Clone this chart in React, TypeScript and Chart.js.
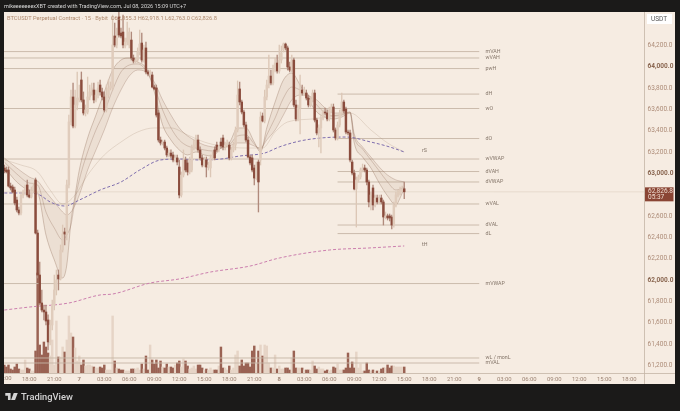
import React, { useEffect, useRef } from "react";
import { Chart, registerables } from "chart.js";

Chart.register(...registerables);

const opens = [
  63050,63031,63031,62881,62872,62844,62750,62657,62629,62797,
  62825,62891,62797,62778,62835,62938,62441,62048,61786,61720,
  61702,61627,61421,61580,61767,61908,62048,62011,62282,62451,
  62432,62891,63481,63715,63443,63640,63687,63874,63687,63565,
  63574,63715,63762,63780,63687,63733,63827,63762,63715,63593,
  63733,63799,63799,64286,64202,64464,64314,64323,64192,64230,
  64202,64248,64080,64052,64061,64136,64220,64061,64174,63949,
  63930,63921,63808,63799,63565,63312,63284,63293,63237,63172,
  63190,63172,63125,63144,63059,62797,62984,63125,63097,63013,
  63031,63237,63265,63312,63219,63144,63078,63125,63059,63050,
  63144,63219,63265,63219,63293,63331,63247,63265,63265,63144,
  63219,63265,63406,63790,63668,63574,63453,63312,63153,63144,
  63050,62956,63106,63125,63537,63490,63715,63827,63911,63846,
  63967,64033,63958,64061,64155,64211,64174,63996,63967,64061,
  63640,63509,63612,63780,63752,63752,63705,63640,63687,63752,
  63499,63378,63425,63518,63574,63565,63509,63593,63621,63406,
  63331,63453,63565,63668,63602,63387,63378,63106,63003,62853,
  62938,62966,63031,63050,63031,62919,62732,62863,62704,62769,
  62732,62769,62732,62591,62601,62601,62591,62516,62704,62797,
  62816,62844,62855.3,
];
const highs = [
  63078,63059,63059,62909,62891,62872,62778,62685,62825,62844,
  62891,62938,62844,62872,62909,62956,62469,62170,61908,61767,
  61767,61674,61627,61814,62048,62095,62095,62329,62516,62488,
  62938,63546,63780,63846,63780,63949,63827,63949,63762,63640,
  63902,63827,63846,63846,63780,63855,63874,63799,63762,63827,
  63874,63855,64482,64408,64361,64510,64361,64482,64267,64417,
  64361,64323,64108,64080,64174,64342,64314,64202,64230,63967,
  63967,63949,63827,63827,63593,63340,63312,63312,63256,63219,
  63219,63200,63172,63172,63125,63013,63219,63153,63125,63153,
  63265,63312,63359,63359,63247,63172,63153,63153,63106,63172,
  63200,63247,63293,63265,63331,63359,63293,63312,63293,63247,
  63293,63434,63865,63855,63687,63593,63481,63340,63172,63172,
  63078,63106,63125,63574,63565,63780,63874,64108,63967,64014,
  64080,64108,64202,64192,64220,64220,64192,64042,64108,64080,
  63687,63640,63921,63827,63808,63780,63733,63715,63780,63780,
  63518,63453,63546,63593,63612,63593,63621,63649,63649,63425,
  63481,63593,63752,63687,63621,63406,63406,63125,63031,62966,
  62984,63050,63087,63078,63050,62938,62825,62891,62797,62797,
  62797,62797,62750,62638,62619,62619,62610,62732,62825,62844,
  62872,62881,62918.1,
];
const lows = [
  63003,63003,62872,62844,62816,62704,62638,62610,62610,62769,
  62797,62778,62769,62769,62816,62432,62020,61767,61702,61627,
  61580,61346,61393,61533,61720,61861,61908,62001,62263,62329,
  62376,62863,63453,63425,63425,63593,63668,63668,63546,63537,
  63556,63687,63733,63659,63668,63705,63733,63687,63574,63574,
  63705,63780,63780,64183,64174,64276,64267,64174,64174,64202,
  64174,64061,64033,64033,64042,64108,64042,64042,63930,63911,
  63911,63799,63780,63527,63293,63265,63265,63219,63153,63153,
  63144,63106,63106,63078,62769,62778,62966,63013,62984,62994,
  63013,63219,63237,63200,63125,63059,63059,62966,63031,62966,
  63125,63125,63200,63200,63237,63219,63219,63247,63125,63125,
  63200,63219,63387,63640,63556,63434,63293,63144,63078,63013,
  62891,62938,62638,63078,63481,63471,63687,63799,63827,63827,
  63949,63939,63939,64033,64136,64155,63967,63949,63949,63621,
  63490,63490,63368,63733,63733,63687,63621,63621,63668,63481,
  63359,63247,63190,63499,63546,63490,63490,63574,63387,63312,
  63312,63434,63546,63565,63368,63359,63106,62984,62844,62497,
  62919,62947,63013,63013,62891,62685,62657,62657,62685,62713,
  62713,62713,62516,62573,62563,62554,62479,62497,62685,62778,
  62797,62825,62763,
];
const closes = [
  63022,63013,62881,62863,62825,62722,62657,62629,62797,62825,
  62863,62797,62778,62835,62881,62441,62048,61786,61720,61702,
  61617,61421,61580,61767,61908,62001,62011,62282,62432,62432,
  62891,63481,63715,63443,63640,63705,63705,63687,63565,63593,
  63715,63762,63799,63687,63733,63799,63762,63715,63593,63733,
  63799,63818,64202,64202,64267,64295,64286,64202,64230,64267,
  64323,64080,64052,64061,64136,64211,64061,64155,63949,63930,
  63949,63808,63790,63546,63312,63284,63293,63237,63172,63190,
  63162,63125,63144,63106,62797,62984,63125,63031,63013,63125,
  63237,63265,63312,63219,63144,63078,63125,63059,63078,63144,
  63172,63144,63219,63247,63256,63247,63265,63284,63144,63219,
  63265,63406,63733,63668,63574,63453,63312,63153,63097,63031,
  62956,63078,62919,63527,63490,63715,63827,63911,63846,63967,
  64033,63958,64061,64127,64211,64174,63996,63967,64061,63640,
  63509,63612,63780,63752,63780,63705,63640,63687,63752,63499,
  63378,63425,63518,63574,63565,63509,63593,63621,63406,63331,
  63453,63565,63668,63584,63387,63378,63125,63003,62853,62938,
  62966,63031,63050,63031,62919,62732,62797,62704,62769,62732,
  62769,62732,62591,62601,62582,62582,62516,62704,62797,62816,
  62844,62853,62826.8,
];
const volumes = [
  80,60,80,40,30,60,90,40,30,30,
  130,50,40,20,20,220,1000,280,180,310,
  260,200,170,330,80,520,160,160,260,210,
  330,570,400,360,250,120,170,80,130,70,
  80,80,70,60,50,50,60,50,80,30,
  30,30,570,120,50,40,30,30,20,20,
  20,40,40,40,50,30,90,40,170,30,
  280,130,90,130,50,120,60,50,90,60,
  60,50,80,100,120,60,140,120,70,40,
  50,70,40,80,80,50,30,40,30,50,
  30,30,30,70,260,50,50,30,70,30,
  50,180,220,70,130,70,100,100,60,220,
  270,100,220,280,170,280,270,100,50,50,
  180,40,70,40,40,50,50,30,150,220,
  50,50,50,50,30,30,30,30,120,70,
  40,60,40,40,20,30,20,30,60,50,
  90,30,30,30,50,200,50,110,50,210,
  50,90,20,20,100,30,20,30,20,20,
  20,40,50,50,80,50,70,70,60,60,
  60,60,60,
];

const ribbonIdx = [0,6,12,16,20,24,28,30,32,34,36,40,44,48,52,56,60,64,68,72,76,80,84,88,92,96,100,104,108,112,116,120,123,126,130,134,138,142,146,150,154,158,162,166,168,172,176,180,184,188,190,192];
const ribbonSlow = [63144,63050,62966,62928,62825,62732,62638,62610,62638,62704,62797,63031,63219,63406,63612,63780,63911,63967,63949,63855,63687,63546,63425,63350,63303,63265,63247,63237,63256,63284,63284,63256,63237,63312,63406,63546,63687,63733,63724,63687,63612,63565,63565,63574,63368,63247,63153,63059,62984,62938,62928,62919];
const ribbonMid = [63106,62994,62909,62891,62638,62488,62376,62423,62516,62750,62938,63200,63406,63574,63780,63949,64014,64024,63967,63808,63593,63425,63312,63256,63237,63219,63209,63237,63265,63350,63359,63275,63219,63359,63518,63705,63808,63780,63733,63640,63565,63537,63546,63574,63340,63228,63125,63022,62919,62844,62853,62872];
const ribbonFast = [63059,62919,62844,62816,62423,62189,62020,62142,62544,62797,63031,63331,63546,63762,63967,64061,64080,64042,63986,63762,63453,63312,63219,63172,63200,63172,63162,63237,63284,63425,63425,63293,63200,63425,63668,63874,63939,63827,63687,63574,63527,63509,63527,63565,63284,63153,63050,62909,62788,62704,62769,62863];

const longEmaIdx = [0,8,16,22,28,34,40,48,56,64,72,80,88,96,104,116,124,130,136,148,160,166,176,184,192];
const longEma = [63125,63078,63013,62844,62713,62797,62984,63172,63293,63387,63425,63425,63359,63293,63256,63237,63237,63387,63481,63509,63546,63565,63406,63284,63200];

const weeklyVwapIdx = [0,10,17,22,29,36,46,56,65,75,84,94,104,113,125,132,142,152,164,176,185,192];
const weeklyVwap = [62816,62816,62797,62732,62694,62750,62844,62919,63031,63125,63134,63125,63134,63162,63190,63247,63303,63331,63340,63293,63247,63200];

const monthlyVwapIdx = [0,12,31,46,52,70,84,99,118,132,156,175,192];
const monthlyVwap = [61720,61748,61786,61861,61870,61973,62011,62076,62132,62207,62282,62301,62320];

const levelNames = ["mVAH","wVAH","pwH","dH","wO","dO","wVWAP","dVAH","dVWAP","wVAL","dVAL","dL","mVWAP","wL / monL","mVAL"];
const levelPrices = [64140,64080,63981,63742,63607,63326,63134,63017,62919,62713,62516,62436,61968,61271,61224];
const levelStarts = [-1,-1,-1,160,-1,160,-1,160,160,-1,160,160,-1,-1,-1];

const timeLabels = ["15:00","18:00","21:00","7","03:00","06:00","09:00","12:00","15:00","18:00","21:00","8","03:00","06:00","09:00","12:00","15:00","18:00","21:00","9","03:00","06:00","09:00","12:00","15:00","18:00"];
const lastPrice = 62826.8;

const FONT = "Roboto, 'Liberation Sans', sans-serif";
const PANEL = "#f6ece2";
const DARK = "#1b1a19";
const DOWN = "#8a4c3d";
const UP = "#e0ccbc";
const VOL_DOWN = "#9a6253";
const VOL_UP = "#e6d4c6";
const LEVEL = "#c6b6a6";
const TIME_COLOR = "#9d8474";

const pts = (xs: number[], ys: number[]) => xs.map((x, i) => ({ x, y: ys[i] }));

const decor = {
  id: "decor",
  beforeDraw(c: any) {
    const g = c.ctx;
    g.save();
    g.fillStyle = DARK;
    g.fillRect(0, 0, 680, 411);
    g.fillStyle = PANEL;
    g.fillRect(4, 12, 671, 372);
    g.restore();
  },
  afterDraw(c: any) {
    const g = c.ctx;
    const x = c.scales.x;
    const y = c.scales.y;
    g.save();
    // first time label sits half outside the panel and is cut at its edge
    g.save();
    g.beginPath();
    g.rect(4, 373, 40, 11);
    g.clip();
    g.font = `5.9px ${FONT}`;
    g.fillStyle = TIME_COLOR;
    g.textAlign = "center";
    g.textBaseline = "middle";
    g.fillText(timeLabels[0], x.getPixelForValue(0), 379);
    g.restore();
    g.strokeStyle = "#c4b5a6";
    g.lineWidth = 0.8;
    g.beginPath();
    g.moveTo(4, 373.5);
    g.lineTo(675, 373.5);
    g.moveTo(644.5, 12);
    g.lineTo(644.5, 384);
    g.stroke();
    g.font = `5.3px ${FONT}`;
    g.fillStyle = "#85766a";
    g.textBaseline = "middle";
    g.textAlign = "left";
    levelNames.forEach((n, i) => {
      g.fillText(n, x.getPixelForValue(231), y.getPixelForValue(levelPrices[i]));
    });
    g.fillText("rS", x.getPixelForValue(200.5), y.getPixelForValue(weeklyVwap[weeklyVwap.length - 1]) - 1);
    g.fillText("tH", x.getPixelForValue(200.5), y.getPixelForValue(monthlyVwap[monthlyVwap.length - 1]) - 1);
    const py = y.getPixelForValue(lastPrice);
    g.fillStyle = "#8a4534";
    g.fillRect(645, py - 4.5, 28.5, 14);
    g.fillStyle = "#f0ddd2";
    g.font = `6.5px ${FONT}`;
    g.fillText(lastPrice.toLocaleString("en-US", { minimumFractionDigits: 1 }), 648, py - 0.5);
    g.fillText("05:37", 648, py + 6);
    g.restore();
  },
};

export default function App() {
  const ref = useRef<HTMLCanvasElement>(null);
  useEffect(() => {
    const levelSets = levelNames.map((n, i) => ({
      type: "line" as const,
      label: n,
      data: [{ x: levelStarts[i], y: levelPrices[i] }, { x: 228, y: levelPrices[i] }],
      borderColor: LEVEL,
      borderWidth: 0.9,
      pointRadius: 0,
      order: 9,
    }));
    const n = closes.length;
    const all = Array.from({ length: n }, (_, i) => i);
    const dirColor = (i: number, d: string, u: string) => (closes[i] < opens[i] ? d : u);
    const lineBase = { type: "line" as const, pointRadius: 0, cubicInterpolationMode: "monotone" as const };
    const chart = new Chart(ref.current!, {
      type: "bar",
      data: {
        datasets: [
          {
            type: "bar", label: "Volume", yAxisID: "vol", grouped: false, order: 10,
            data: all.map((i) => ({ x: i, y: volumes[i] })),
            backgroundColor: all.map((i) => dirColor(i, VOL_DOWN, VOL_UP)),
            barThickness: 1.8,
          },
          ...levelSets,
          {
            type: "line", label: "Last", order: 9, pointRadius: 0,
            data: [{ x: -1, y: lastPrice }, { x: 308, y: lastPrice }],
            borderColor: "rgba(190,170,150,0.35)", borderWidth: 0.7,
          },
          {
            ...lineBase, label: "Long EMA", order: 8,
            data: pts(longEmaIdx, longEma),
            borderColor: "rgba(175,150,130,0.4)", borderWidth: 0.7,
          },
          {
            ...lineBase, label: "Ribbon slow", order: 7,
            data: pts(ribbonIdx, ribbonSlow),
            borderColor: "rgba(140,105,85,0.42)", borderWidth: 0.7,
            fill: { target: "+2" }, backgroundColor: "rgba(150,105,80,0.10)",
          },
          {
            ...lineBase, label: "Ribbon mid", order: 7,
            data: pts(ribbonIdx, ribbonMid),
            borderColor: "rgba(140,105,85,0.42)", borderWidth: 0.7,
          },
          {
            ...lineBase, label: "Ribbon fast", order: 7,
            data: pts(ribbonIdx, ribbonFast),
            borderColor: "rgba(140,105,85,0.48)", borderWidth: 0.7,
          },
          {
            ...lineBase, label: "wVWAP line", order: 6,
            data: pts(weeklyVwapIdx, weeklyVwap),
            borderColor: "#7f6eae", borderWidth: 1, borderDash: [3, 2],
          },
          {
            ...lineBase, label: "mVWAP line", order: 6,
            data: pts(monthlyVwapIdx, monthlyVwap),
            borderColor: "#cc7fae", borderWidth: 1, borderDash: [3, 2],
          },
          {
            type: "bar", label: "Wicks", grouped: false, order: 2,
            data: all.map((i) => ({ x: i, y: [lows[i], highs[i]] })),
            backgroundColor: all.map((i) => dirColor(i, "#b08a7c", "#dcc7b6")),
            barThickness: 0.7,
          },
          {
            type: "bar", label: "Bodies", grouped: false, order: 1,
            data: all.map((i) => ({ x: i, y: [opens[i], closes[i]] })),
            backgroundColor: all.map((i) => dirColor(i, DOWN, UP)),
            barThickness: 1.8,
          },
        ] as any,
      },
      options: {
        responsive: false,
        animation: false,
        events: [],
        layout: { autoPadding: false, padding: { left: 4, top: 12, right: 5, bottom: 27 } },
        plugins: { legend: { display: false }, tooltip: { enabled: false } },
        scales: {
          x: {
            type: "linear",
            offset: false,
            min: -0.15,
            max: 307.1,
            afterFit: (s: any) => { s.height = 11; },
            afterBuildTicks: (s: any) => {
              s.ticks = timeLabels.slice(1).map((_, i) => ({ value: (i + 1) * 12 }));
            },
            grid: { display: false, drawTicks: false, offset: false },
            border: { display: false },
            ticks: {
              autoSkip: false,
              maxRotation: 0,
              padding: 3,
              color: TIME_COLOR,
              font: (ctx: any) => ({ family: FONT, size: 5.9, weight: ctx.tick && /^\d$/.test(timeLabels[ctx.tick.value / 12] ?? "") ? "bold" : "normal" }),
              callback: (v: any) => timeLabels[Number(v) / 12] ?? "",
            },
          },
          y: {
            position: "right",
            min: 61130.5,
            max: 64510.6,
            afterFit: (s: any) => { s.width = 31; },
            afterBuildTicks: (s: any) => {
              const t: any[] = [];
              for (let v = 61200; v <= 64200; v += 200) t.push({ value: v });
              s.ticks = t;
            },
            grid: { display: false, drawTicks: false },
            border: { display: false },
            ticks: {
              padding: 3.5,
              color: (ctx: any) => (ctx.tick && ctx.tick.value % 1000 === 0 ? "#8a6650" : "#ad8c78"),
              font: (ctx: any) => ({ family: FONT, size: 6.5, weight: ctx.tick && ctx.tick.value % 1000 === 0 ? "bold" : "normal" }),
              callback: (v: any) => Number(v).toLocaleString("en-US", { minimumFractionDigits: 1 }),
            },
          },
          vol: { display: false, min: 0, max: 3610, position: "left" },
        },
      } as any,
      plugins: [decor],
    });
    return () => chart.destroy();
  }, []);

  const abs = (l: number, t: number): React.CSSProperties => ({ position: "absolute", left: l, top: t, fontFamily: FONT, whiteSpace: "nowrap", lineHeight: 1 });
  return (
    <div style={{ position: "fixed", left: 0, top: 0, width: 680, height: 411, overflow: "hidden", background: DARK }}>
      <canvas ref={ref} width={680} height={411} style={{ display: "block" }} />
      <div style={{ ...abs(4, 4), fontSize: 5.5, color: "#d8d8d8" }}>mikeeeeeeexXBT created with TradingView.com, Jul 08, 2026 15:09 UTC+7</div>
      <div style={{ ...abs(7, 15.5), fontSize: 5.7, color: "#b08a6e" }}>BTCUSDT Perpetual Contract · 15 · Bybit&nbsp;&nbsp;O62,855.3 H62,918.1 L62,763.0 C62,826.8</div>
      <div style={{ ...abs(647, 14), width: 25, height: 10, background: "#ffffff", color: "#555", fontSize: 6.5, lineHeight: "10px", paddingLeft: 4, boxSizing: "border-box" }}>USDT</div>
      <svg style={{ position: "absolute", left: 5, top: 393 }} width="13" height="8" viewBox="0 0 14 9">
        <path d="M0 0h6v8H3V3H0zM11 0a1.5 1.5 0 1 1 0 .01zM6.5 8L9.5 0H14l-3 8z" fill="#d4d4d4" />
      </svg>
      <div style={{ ...abs(21, 392), fontSize: 9.3, fontWeight: 500, color: "#d4d4d4" }}>TradingView</div>
    </div>
  );
}
